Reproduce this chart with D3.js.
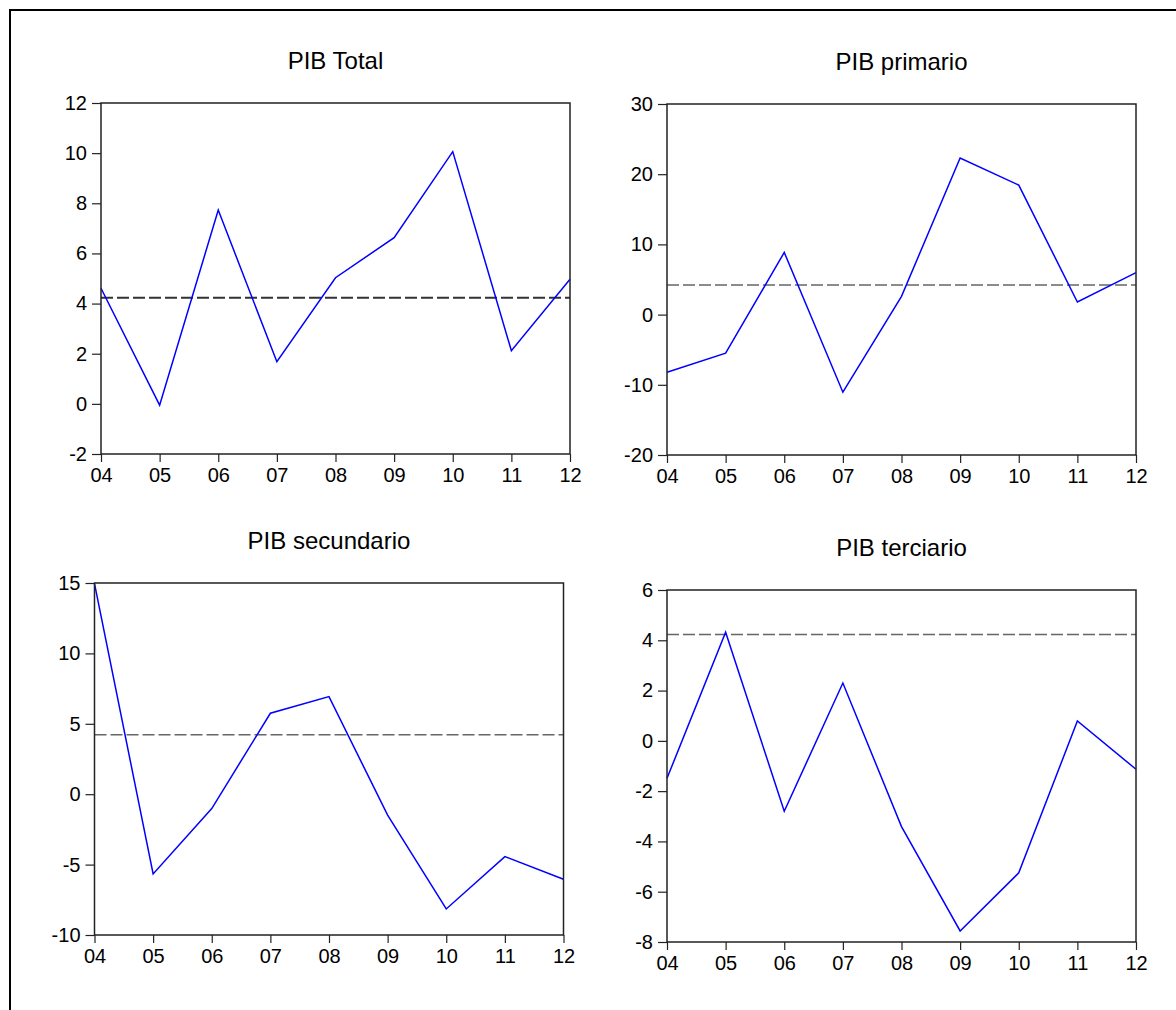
<!DOCTYPE html>
<html>
<head>
<meta charset="utf-8">
<script src="https://cdn.jsdelivr.net/npm/d3@7/dist/d3.min.js"></script>
<style>
  html, body { margin: 0; padding: 0; background: #fff; }
  svg { display: block; }
  svg text { font-family: Arial, "Liberation Sans", sans-serif; }
</style>
</head>
<body>
<div id="chart"></div>
<script>
// Data
const years = ["04", "05", "06", "07", "08", "09", "10", "11", "12"];
const pibTotal = [4.61, -0.05, 7.73, 1.68, 5.03, 6.63, 10.06, 2.12, 4.97];
const pibPrimario = [-8.2, -5.5, 8.86, -11.05, 2.6, 22.3, 18.45, 1.8, 5.97];
const pibSecundario = [14.95, -5.66, -1.02, 5.75, 6.93, -1.49, -8.15, -4.43, -6.04];
const pibTerciario = [-1.49, 4.32, -2.8, 2.3, -3.41, -7.56, -5.25, 0.79, -1.13];
const meanLine = 4.23;

const ticksTotal = [-2, 0, 2, 4, 6, 8, 10, 12];
const ticksPrimario = [-20, -10, 0, 10, 20, 30];
const ticksSecundario = [-10, -5, 0, 5, 10, 15];
const ticksTerciario = [-8, -6, -4, -2, 0, 2, 4, 6];

const width = 1176, height = 1010;

const svg = d3.select("#chart")
    .append("svg")
    .attr("width", width)
    .attr("height", height);

// outer frame (left + top only, cut by the image edges)
svg.append("path")
    .attr("d", `M10,${height + 5} L10,10 L${width + 5},10`)
    .attr("fill", "none")
    .attr("stroke", "#000")
    .attr("stroke-width", 2);

// panels
const panels = [
    { title: "PIB Total", values: pibTotal, ticks: ticksTotal, x0: 101, x1: 570, y0: 103, y1: 454, dark: true },
    { title: "PIB primario", values: pibPrimario, ticks: ticksPrimario, x0: 667, x1: 1136, y0: 104, y1: 455 },
    { title: "PIB secundario", values: pibSecundario, ticks: ticksSecundario, x0: 94.5, x1: 563.5, y0: 583, y1: 935 },
    { title: "PIB terciario", values: pibTerciario, ticks: ticksTerciario, x0: 667, x1: 1136, y0: 590, y1: 942 }
];

panels.forEach(p => drawPanel(p));

function drawPanel(p) {
    const x = d3.scalePoint()
        .domain(years)
        .range([p.x0, p.x1]);

    const y = d3.scaleLinear()
        .domain(d3.extent(p.ticks))
        .range([p.y1, p.y0]);

    const g = svg.append("g");

    // title
    g.append("text")
        .attr("x", (p.x0 + p.x1) / 2)
        .attr("y", p.y0 - 34)
        .attr("text-anchor", "middle")
        .attr("font-size", "24px")
        .attr("fill", "#000")
        .text(p.title);

    // y axis (plain hyphen for negatives)
    const yAxis = g.append("g")
        .attr("transform", `translate(${p.x0},0)`)
        .call(d3.axisLeft(y).tickValues(p.ticks).tickSize(9).tickPadding(5).tickFormat(d => String(d)));
    yAxis.attr("font-family", null).attr("font-size", null);
    yAxis.select(".domain").remove();
    yAxis.selectAll("line").attr("stroke", "#222").attr("stroke-width", 1.2);
    yAxis.selectAll("text").attr("font-size", "20px").attr("fill", "#000");

    // x axis
    const xAxis = g.append("g")
        .attr("transform", `translate(0,${p.y1})`)
        .call(d3.axisBottom(x).tickSize(8).tickPadding(6));
    xAxis.attr("font-family", null).attr("font-size", null);
    xAxis.select(".domain").remove();
    xAxis.selectAll("line").attr("stroke", "#222").attr("stroke-width", 1.2);
    xAxis.selectAll("text").attr("font-size", "20px").attr("fill", "#000");

    // reference line
    g.append("line")
        .attr("x1", p.x0)
        .attr("x2", p.x1)
        .attr("y1", y(meanLine))
        .attr("y2", y(meanLine))
        .attr("stroke", p.dark ? "#333" : "#666")
        .attr("stroke-width", p.dark ? 2 : 1.5)
        .attr("stroke-dasharray", "12,4");

    // series
    const line = d3.line()
        .x((d, i) => x(years[i]))
        .y(d => y(d));

    g.append("path")
        .datum(p.values)
        .attr("fill", "none")
        .attr("stroke", "#0000ff")
        .attr("stroke-width", 1.5)
        .attr("d", line);

    // frame
    g.append("rect")
        .attr("x", p.x0)
        .attr("y", p.y0)
        .attr("width", p.x1 - p.x0)
        .attr("height", p.y1 - p.y0)
        .attr("fill", "none")
        .attr("stroke", "#222")
        .attr("stroke-width", 1.5);
}
</script>
</body>
</html>
